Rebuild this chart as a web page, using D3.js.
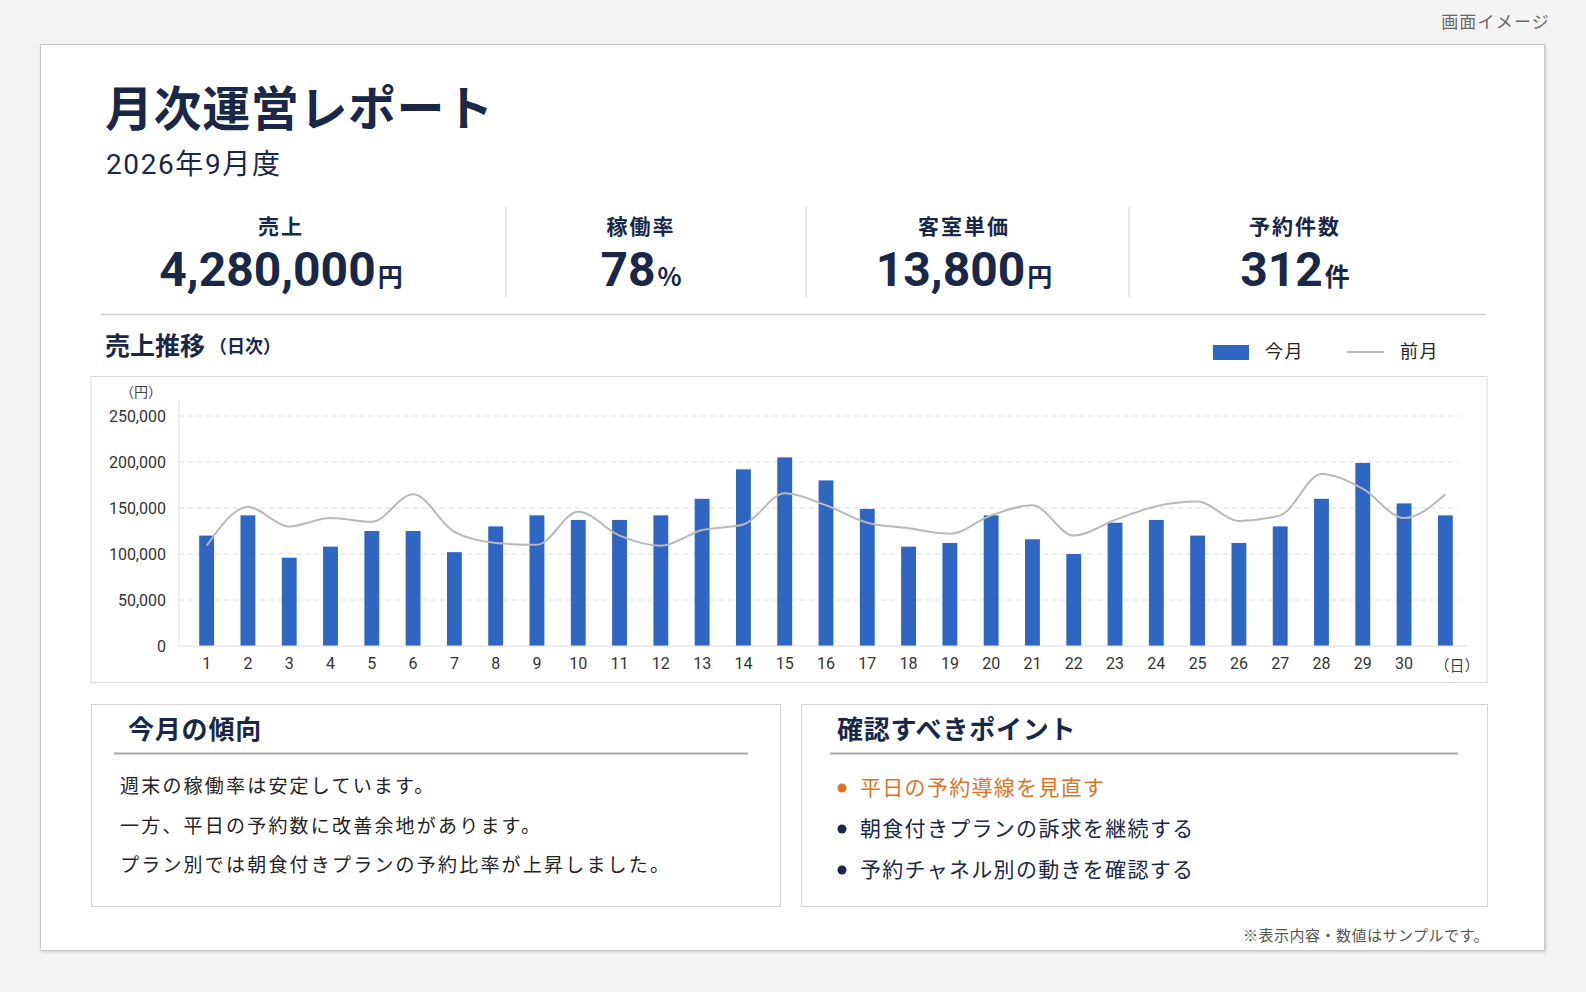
<!DOCTYPE html>
<html>
<head>
<meta charset="utf-8">
<script src="https://cdn.jsdelivr.net/npm/d3@7/dist/d3.min.js"></script>
<style>
  body { margin: 0; background: #f4f4f5; }
  svg { display: block; }
</style>
</head>
<body>
<div id="report"></div>
<script>
var width = 1586;
var height = 992;

var navy = "#1a2747";
var jp = "'Noto Sans CJK JP', 'Noto Sans', sans-serif";
var num = "Roboto, 'Noto Sans CJK JP', sans-serif";

// KPI
var kpiLabels = ["売上", "稼働率", "客室単価", "予約件数"];
var kpiValues = ["4,280,000", "78", "13,800", "312"];
var kpiUnits = ["円", "%", "円", "件"];

// daily sales (yen)
var days = d3.range(1, 32);
var dayLabels = d3.range(1, 31).map(String).concat([""]);
var thisMonth = [120000, 142000, 96000, 108000, 125000, 125000, 102000, 130000, 142000, 137000,
  137000, 142000, 160000, 192000, 205000, 180000, 149000, 108000, 112000, 142000,
  116000, 100000, 134000, 137000, 120000, 112000, 130000, 160000, 199000, 155000, 142000];
var lastMonth = [109000, 151000, 130000, 139000, 135000, 165000, 124000, 112000, 110000, 146000,
  120000, 109000, 126000, 132000, 166000, 153000, 134000, 128000, 122000, 142000,
  153000, 120000, 137000, 152000, 157000, 136000, 142000, 187000, 171000, 139000, 165000];
var yTicks = [0, 50000, 100000, 150000, 200000, 250000];

var trendLines = ["週末の稼働率は安定しています。",
  "一方、平日の予約数に改善余地があります。",
  "プラン別では朝食付きプランの予約比率が上昇しました。"];
var checkPoints = ["平日の予約導線を見直す", "朝食付きプランの訴求を継続する", "予約チャネル別の動きを確認する"];

var svg = d3.select("#report").append("svg")
  .attr("width", width)
  .attr("height", height)

var defs = svg.append("defs")
var sh = defs.append("filter").attr("id", "shadow").attr("x", "-5%").attr("y", "-5%").attr("width", "110%").attr("height", "110%")
sh.append("feDropShadow").attr("dx", 1).attr("dy", 1).attr("stdDeviation", 1.5).attr("flood-color", "#000").attr("flood-opacity", 0.18)

svg.append("text")
  .attr("x", 1550).attr("y", 28)
  .attr("text-anchor", "end")
  .style("font-family", jp).style("font-size", "17px").style("letter-spacing", "1.2px")
  .style("fill", "#666")
  .text("画面イメージ")

// card
svg.append("rect")
  .attr("x", 40.5).attr("y", 44.5).attr("width", 1504).attr("height", 906)
  .attr("fill", "#fff").attr("stroke", "#c9c9c9")
  .attr("filter", "url(#shadow)")

svg.append("text")
  .attr("x", 105).attr("y", 126)
  .style("font-family", jp).style("font-size", "48px").style("font-weight", 700).style("letter-spacing", "0.6px")
  .style("fill", navy)
  .text("月次運営レポート")

var sub = svg.append("text")
  .attr("x", 106).attr("y", 174)
  .style("font-size", "28px").style("letter-spacing", "1.6px")
  .style("fill", navy)
sub.append("tspan").style("font-family", num).text("2026")
sub.append("tspan").style("font-family", jp).text("年")
sub.append("tspan").style("font-family", num).text("9")
sub.append("tspan").style("font-family", jp).text("月度")

// KPI row
var kpiX = [281, 641, 964, 1295];
var kpi = svg.selectAll("g.kpi").data(kpiLabels).enter().append("g").attr("class", "kpi")
  .attr("transform", (d, i) => "translate(" + kpiX[i] + ",0)")

kpi.append("text")
  .attr("y", 234).attr("text-anchor", "middle")
  .style("font-family", jp).style("font-size", "21px").style("font-weight", 700).style("letter-spacing", "2px")
  .style("fill", navy)
  .text(d => d)

var val = kpi.append("text")
  .attr("y", 286).attr("text-anchor", "middle")
  .style("fill", navy)
val.append("tspan")
  .style("font-family", num).style("font-size", "48px").style("font-weight", 700)
  .text((d, i) => kpiValues[i])
val.append("tspan")
  .attr("dx", 2)
  .style("font-family", jp).style("font-size", "25px").style("font-weight", 700)
  .text((d, i) => kpiUnits[i])

svg.selectAll("line.sep").data([506, 806, 1129]).enter().append("line")
  .attr("x1", d => d).attr("x2", d => d).attr("y1", 207).attr("y2", 297)
  .attr("stroke", "#cfcfcf")

svg.append("line")
  .attr("x1", 101).attr("x2", 1486).attr("y1", 314.5).attr("y2", 314.5)
  .attr("stroke", "#cfcfcf").attr("stroke-width", 1.5)

// chart header
var head = svg.append("text").attr("x", 105).attr("y", 355).style("fill", navy)
head.append("tspan")
  .style("font-family", jp).style("font-size", "25px").style("font-weight", 700)
  .text("売上推移")
head.append("tspan")
  .attr("dx", 4).attr("dy", -2)
  .style("font-family", jp).style("font-size", "18px").style("font-weight", 700)
  .text("（日次）")

// legend
svg.append("rect").attr("x", 1213).attr("y", 345).attr("width", 36).attr("height", 15).attr("fill", "#2f66c2")
svg.append("text").attr("x", 1265).attr("y", 358)
  .style("font-family", jp).style("font-size", "18px").style("letter-spacing", "1.5px").style("fill", "#222")
  .text("今月")
svg.append("line").attr("x1", 1347).attr("x2", 1384).attr("y1", 352).attr("y2", 352)
  .attr("stroke", "#b9b9b9").attr("stroke-width", 2)
svg.append("text").attr("x", 1400).attr("y", 358)
  .style("font-family", jp).style("font-size", "18px").style("letter-spacing", "1.5px").style("fill", "#222")
  .text("前月")

// chart box
svg.append("rect")
  .attr("x", 91).attr("y", 376.5).attr("width", 1396).attr("height", 306)
  .attr("fill", "#fff").attr("stroke", "#d9d9d9")

var x = d3.scaleBand()
  .domain(days)
  .range([186, 1466])
  .paddingInner(0.64)
  .paddingOuter(0.32)

var y = d3.scaleLinear()
  .domain([0, 250000])
  .range([646, 416])

var chart = svg.append("g")

chart.selectAll("line.grid").data(yTicks.slice(1)).enter().append("line")
  .attr("x1", 179).attr("x2", 1458)
  .attr("y1", d => y(d)).attr("y2", d => y(d))
  .attr("stroke", "#dcdcdc").attr("stroke-dasharray", "5,4")

var yAxis = chart.append("g")
  .attr("transform", "translate(179,0)")
  .call(d3.axisLeft(y).tickValues(yTicks).tickFormat(d3.format(",")).tickSize(0).tickPadding(13))
yAxis.select(".domain").attr("stroke", "#dcdcdc").attr("d", "M0,400V646")
yAxis.selectAll("text").style("font-family", num).style("font-size", "16px").style("fill", "#333")

chart.append("text").attr("x", 141).attr("y", 397).attr("text-anchor", "middle")
  .style("font-family", jp).style("font-size", "14px").style("fill", "#444")
  .text("（円）")

chart.selectAll("rect.bar").data(thisMonth).enter().append("rect")
  .attr("class", "bar")
  .attr("x", (d, i) => x(days[i]))
  .attr("width", x.bandwidth())
  .attr("y", d => y(d))
  .attr("height", d => y(0) - y(d))
  .attr("fill", "#2f66c2")

var xAxis = chart.append("g")
  .attr("transform", "translate(0,646)")
  .call(d3.axisBottom(x).tickFormat((d, i) => dayLabels[i]).tickSize(0).tickPadding(12))
xAxis.select(".domain").attr("stroke", "#dcdcdc").attr("d", "M179,0H1467")
xAxis.selectAll("text").style("font-family", num).style("font-size", "16px").style("fill", "#333")

chart.append("text").attr("x", 1457).attr("y", 671).attr("text-anchor", "middle")
  .style("font-family", jp).style("font-size", "15px").style("fill", "#444")
  .text("（日）")

var line = d3.line()
  .x((d, i) => x(days[i]) + x.bandwidth() / 2)
  .y(d => y(d))
  .curve(d3.curveMonotoneX)

chart.append("path")
  .datum(lastMonth)
  .attr("d", line)
  .attr("fill", "none")
  .attr("stroke", "#b9b9b9")
  .attr("stroke-width", 2)

// bottom panels
var panels = [
  {x: 91, w: 689, title: "今月の傾向", tx: 128, lx1: 114, lx2: 748},
  {x: 801, w: 686, title: "確認すべきポイント", tx: 837, lx1: 830, lx2: 1458}
]
panels.forEach(p => {
  svg.append("rect").attr("x", p.x + 0.5).attr("y", 704.5).attr("width", p.w).attr("height", 202)
    .attr("fill", "#fff").attr("stroke", "#d3d3d3")
  svg.append("text").attr("x", p.tx).attr("y", 739)
    .style("font-family", jp).style("font-size", "26px").style("font-weight", 700).style("letter-spacing", "0.8px")
    .style("fill", navy)
    .text(p.title)
  svg.append("line").attr("x1", p.lx1).attr("x2", p.lx2).attr("y1", 753.5).attr("y2", 753.5)
    .attr("stroke", "#a9a9a9").attr("stroke-width", 2)
})

svg.selectAll("text.trend").data(trendLines).enter().append("text")
  .attr("class", "trend")
  .attr("x", 120).attr("y", (d, i) => 793 + i * 39.5)
  .style("font-family", jp).style("font-size", "19px").style("letter-spacing", "2.2px")
  .style("fill", "#222")
  .text(d => d)

var pts = svg.selectAll("g.point").data(checkPoints).enter().append("g")
  .attr("class", "point")
  .attr("transform", (d, i) => "translate(0," + (787 + i * 41) + ")")
pts.append("circle").attr("cx", 842).attr("cy", 1).attr("r", 4.5)
  .attr("fill", (d, i) => i == 0 ? "#e0731f" : navy)
pts.append("text").attr("x", 860).attr("y", 8)
  .style("font-family", jp).style("font-size", "21px").style("letter-spacing", "1.3px")
  .style("fill", (d, i) => i == 0 ? "#e0731f" : navy)
  .text(d => d)

svg.append("text")
  .attr("x", 1489).attr("y", 941).attr("text-anchor", "end")
  .style("font-family", jp).style("font-size", "15px").style("letter-spacing", "0.5px")
  .style("fill", "#555")
  .text("※表示内容・数値はサンプルです。")
</script>
</body>
</html>
